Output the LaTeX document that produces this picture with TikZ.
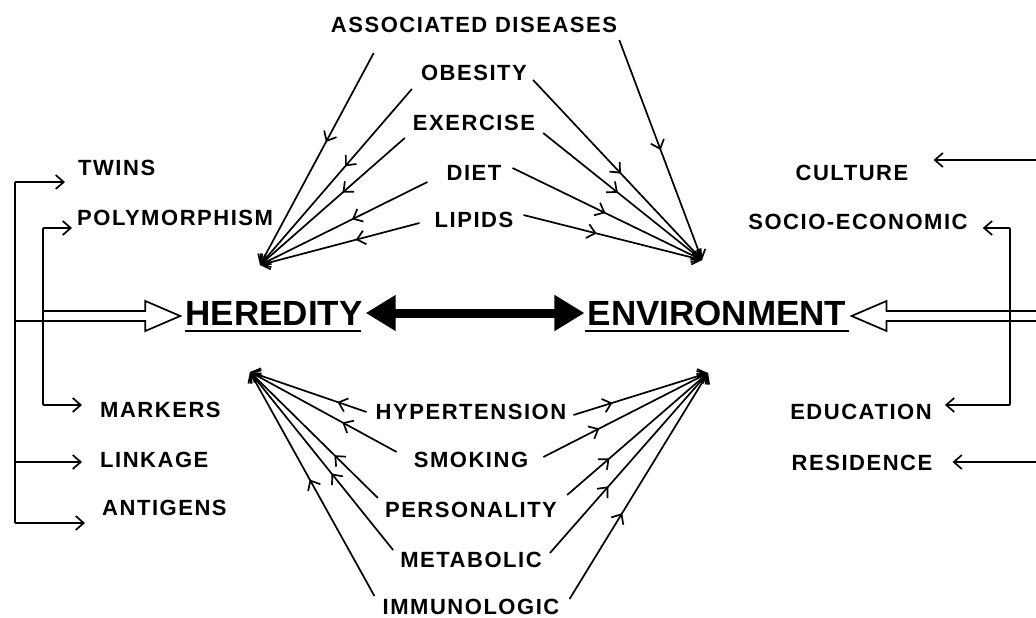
\documentclass[tikz,border=0pt]{standalone}
\usepackage{fontspec}
\setmainfont{Liberation Sans}
\newfontfamily\lblfont[LetterSpace=7]{Liberation Sans}
\usetikzlibrary{arrows.meta,decorations.markings,calc}
\tikzset{
  lbl/.style={font=\lblfont\bfseries\fontsize{22}{22}\selectfont, inner sep=0pt},
  big/.style={font=\bfseries\fontsize{35}{35}\selectfont, inner sep=3pt},
  rim/.style={line width=1.7pt},
  link/.style={rim, -{Straight Barb[length=8pt,width=14pt]}},
  midarr/.style={postaction={decorate},
    decoration={markings,mark=at position #1 with {\arrow{Straight Barb[length=8pt,width=14pt]}}}},
  bigarr/.style={line width=9pt, {Triangle[length=30pt,width=34pt]}-{Triangle[length=30pt,width=34pt]}}
}
\begin{document}
\begin{tikzpicture}[x=1pt,y=-1pt]
\useasboundingbox (0,0) rectangle (1036,618);
% main nodes
\node[big] (her) at (274,313) {HEREDITY};
\node[big] (env) at (717,313) {ENVIRONMENT};
\draw[rim] ([shift={(3,6)}]her.base west) -- ([shift={(-5,6)}]her.base east);
\draw[rim] ([shift={(1,6)}]env.base west) -- ([shift={(-1,6)}]env.base east);
\draw[bigarr] (her.east) -- (env.west);
% meeting points
\coordinate (hu) at (260,265);
\coordinate (hd) at (250,372);
\coordinate (eu) at (702,260);
\coordinate (ed) at (708,373);
% top and bottom labels
\foreach \n/\t/\y in {asd/ASSOCIATED DISEASES/25, obe/OBESITY/73, exe/EXERCISE/123, diet/DIET/173, lip/LIPIDS/220}
    \node[lbl] (\n) at (474,\y) {\t};
\foreach \n/\t/\y in {hyp/HYPERTENSION/412, smo/SMOKING/460, per/PERSONALITY/510, met/METABOLIC/560, imm/IMMUNOLOGIC/607}
    \node[lbl] (\n) at (471,\y) {\t};
\foreach \n/\dx/\dy/\p in {asd/43/28/0.42, obe/-9/16/0.44, exe/-8/15/0.43, diet/-19/9/0.45, lip/-15/3/0.40}
    \draw[link,midarr=\p] ([shift={(\dx,\dy)}]\n.west) -- (hu);
\foreach \n/\dx/\dy/\p in {asd/2/15/0.5, obe/6/7/0.52, exe/8/10/0.47, diet/11/-5/0.49, lip/10/-5/0.41}
    \draw[link,midarr=\p] ([shift={(\dx,\dy)}]\n.east) -- (eu);
\foreach \n/\dx/\dy/\p in {hyp/-9/0/0.25, smo/-17/-8/0.37, per/-7/-12/0.34, met/-7/-10/0.43, imm/-8/-11/0.52}
    \draw[link,midarr=\p] ([shift={(\dx,\dy)}]\n.west) -- (hd);
\foreach \n/\dx/\dy/\p in {hyp/7/3/0.29, smo/15/-3/0.34, per/10/-15/0.3, met/8/-7/0.37, imm/10/-8/0.38}
    \draw[link,midarr=\p] ([shift={(\dx,\dy)}]\n.east) -- (ed);
% left side
\coordinate (trA) at (15,0);
\coordinate (trB) at (43,0);
\foreach \n/\t/\x/\y in {twi/TWINS/78/168, pol/POLYMORPHISM/77/218, mar/MARKERS/100/410, lnk/LINKAGE/100/460, ant/ANTIGENS/102/508}
    \node[lbl,anchor=west] (\n) at (\x,\y) {\t};
\foreach \n/\dx/\dy/\tr in {twi/-13/14/trA, pol/-5/10/trB, mar/-18/-5/trB, lnk/-18/2/trA, ant/-17/15/trA}
   {\coordinate (\n-in) at ([shift={(\dx,\dy)}]\n.west);
    \draw[link] (\tr |- \n-in) -- (\n-in);}
\draw[rim] (trA |- twi-in) -- (trA |- ant-in);
\draw[rim] (trB |- pol-in) -- (trB |- mar-in);
\coordinate (htip) at ([shift={(-2,3)}]her.west);
\draw[rim] ($(trB |- htip)+(0,-5)$) -- ($(htip)+(-35,-5)$) -- ($(htip)+(-35,-15)$) -- (htip)
    -- ($(htip)+(-35,15)$) -- ($(htip)+(-35,5)$) -- ($(trA |- htip)+(0,5)$);
% right side
\coordinate (trC) at (1010,0);
\coordinate (redge) at (1036,0);
\foreach \n/\t/\x/\y in {cul/CULTURE/852/173, soc/SOCIO-ECONOMIC/858/222, edu/EDUCATION/861/412, res/RESIDENCE/862/463}
    \node[lbl] (\n) at (\x,\y) {\t};
\foreach \n/\dx/\dy/\tr in {cul/25/-13/redge, soc/15/6/trC, edu/13/-7/trC, res/20/-1/redge}
   {\coordinate (\n-in) at ([shift={(\dx,\dy)}]\n.east);
    \draw[link] (\tr |- \n-in) -- (\n-in);}
\draw[rim] (trC |- soc-in) -- (trC |- edu-in);
\coordinate (etip) at ([shift={(2,3)}]env.east);
\draw[rim] ($(redge |- etip)+(0,-5)$) -- ($(etip)+(35,-5)$) -- ($(etip)+(35,-15)$) -- (etip)
    -- ($(etip)+(35,15)$) -- ($(etip)+(35,5)$) -- ($(redge |- etip)+(0,5)$);
\end{tikzpicture}
\end{document}
